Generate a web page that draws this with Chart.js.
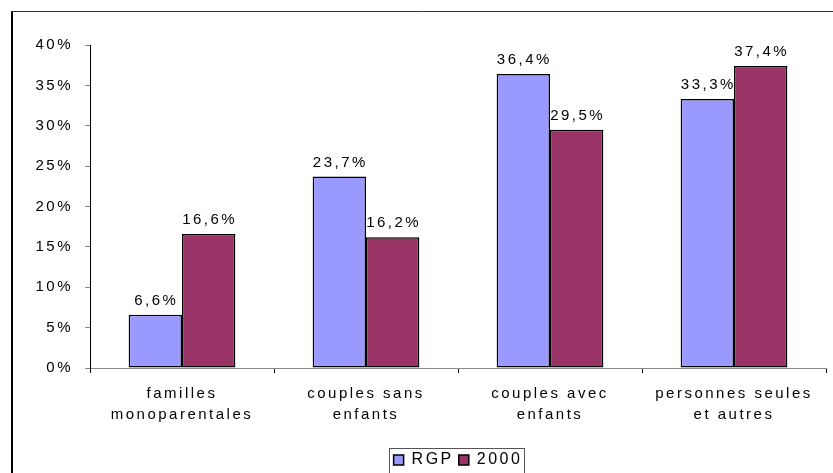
<!DOCTYPE html>
<html>
<head>
<meta charset="utf-8">
<script src="https://cdn.jsdelivr.net/npm/chart.js@4.4.1/dist/chart.umd.min.js"></script>
<style>
  html, body { margin: 0; padding: 0; background: #fff; }
  #wrap { width: 833px; height: 473px; position: relative; }
</style>
</head>
<body>
<div id="wrap"><canvas id="chart"></canvas></div>
<script>
// Chart data
const categories = [
    ['familles', 'monoparentales'],
    ['couples sans', 'enfants'],
    ['couples avec', 'enfants'],
    ['personnes seules', 'et autres']
];
const rgpValues = [6.6, 23.7, 36.4, 33.3];
const values2000 = [16.6, 16.2, 29.5, 37.4];
const yTicks = [0, 5, 10, 15, 20, 25, 30, 35, 40];

const FONT = 'Liberation Sans, Arial, sans-serif';
const SPACING = '2.5px';

// Spread letters like the original
const spacingPlugin = {
    id: 'spacing',
    beforeLayout(chart) { chart.ctx.letterSpacing = SPACING; },
    beforeDraw(chart) { chart.ctx.letterSpacing = SPACING; },
    afterLayout(chart) {
        // center the legend under the plot area, not the canvas
        const lg = chart.legend;
        const shift = (chart.chartArea.left + chart.chartArea.right) / 2 - (lg.left + lg.right) / 2;
        lg.left += shift;
        lg.right += shift;
    }
};

// Outer frame and legend box
const framePlugin = {
    id: 'frame',
    beforeDraw(chart) {
        const ctx = chart.ctx;
        ctx.save();
        ctx.strokeStyle = '#000';
        ctx.lineWidth = 2;
        ctx.beginPath();
        ctx.moveTo(12, 480);
        ctx.lineTo(12, 11.5);
        ctx.stroke();
        ctx.strokeStyle = '#333';
        ctx.lineWidth = 1;
        ctx.beginPath();
        ctx.moveTo(11, 11.5);
        ctx.lineTo(840, 11.5);
        ctx.stroke();
        ctx.restore();
    },
    afterDraw(chart) {
        const boxes = chart.legend.legendHitBoxes;
        if (!boxes || !boxes.length) return;
        const first = boxes[0];
        const last = boxes[boxes.length - 1];
        const ctx = chart.ctx;
        ctx.save();
        ctx.strokeStyle = '#555';
        ctx.lineWidth = 1;
        ctx.strokeRect(Math.round(first.left - 5) + 0.5, Math.round(first.top - 4) + 0.5,
            Math.round(last.left + last.width - first.left + 6), 40);
        ctx.restore();
    }
};

// Value labels above the bars
const valueLabels = {
    id: 'valueLabels',
    afterDatasetsDraw(chart) {
        const ctx = chart.ctx;
        ctx.save();
        ctx.letterSpacing = SPACING;
        ctx.font = '15px ' + FONT;
        ctx.fillStyle = '#000';
        ctx.textAlign = 'center';
        ctx.textBaseline = 'alphabetic';
        chart.data.datasets.forEach((ds, i) => {
            chart.getDatasetMeta(i).data.forEach((bar, j) => {
                const txt = ds.data[j].toFixed(1).replace('.', ',') + '%';
                ctx.fillText(txt, bar.x + 1, bar.y - 10);
            });
        });
        ctx.restore();
    }
};

new Chart(document.getElementById('chart'), {
    type: 'bar',
    data: {
        labels: categories,
        datasets: [{
            label: 'RGP',
            data: rgpValues,
            backgroundColor: '#9999FF',
            borderColor: '#000',
            borderWidth: 1.5,
            borderSkipped: false
        }, {
            label: '2000',
            data: values2000,
            backgroundColor: '#993366',
            borderColor: '#000',
            borderWidth: 1.5,
            borderSkipped: false
        }]
    },
    options: {
        responsive: true,
        maintainAspectRatio: false,
        animation: false,
        layout: { padding: { left: 0, right: 7, top: 45, bottom: -5 } },
        datasets: { bar: { categoryPercentage: 0.58, barPercentage: 1 } },
        scales: {
            x: {
                grid: { display: true, drawOnChartArea: false, color: '#000', tickLength: 5, offset: true },
                border: { color: '#888', width: 1 },
                ticks: { color: '#000', font: { family: FONT, size: 15, lineHeight: 1.4 }, padding: 10 },
                afterFit(scale) { scale.height = 79; }
            },
            y: {
                min: 0,
                max: 40,
                afterBuildTicks(scale) { scale.ticks = yTicks.map(v => ({ value: v })); },
                grid: { display: true, drawOnChartArea: false, color: '#888', tickLength: 5 },
                border: { color: '#000', width: 1 },
                ticks: {
                    color: '#000',
                    font: { family: FONT, size: 15 },
                    padding: 12,
                    callback: v => v + '%'
                },
                afterFit(scale) { scale.width = 90; }
            }
        },
        plugins: {
            legend: {
                position: 'bottom',
                labels: {
                    color: '#000',
                    font: { family: FONT, size: 16 },
                    boxWidth: 10,
                    boxHeight: 10,
                    padding: 5,
                    useBorderRadius: false
                }
            },
            tooltip: { enabled: false }
        }
    },
    plugins: [spacingPlugin, framePlugin, valueLabels]
});
</script>
</body>
</html>
